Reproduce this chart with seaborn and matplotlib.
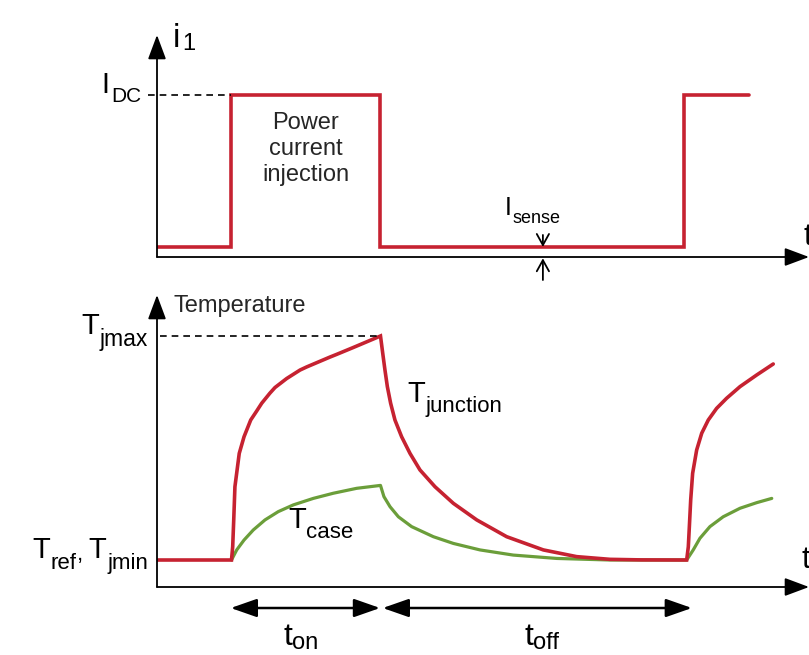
import matplotlib
matplotlib.use("Agg")
import matplotlib.pyplot as plt
import seaborn as sns
import pandas as pd
from matplotlib.patches import ConnectionPatch

sns.set_theme(style="white")
plt.rcParams["font.family"] = ["Liberation Sans", "DejaVu Sans"]

# ---------------- data (time in arbitrary units) ----------------
T_ON_START, T_ON_END, T_NEXT_ON, T_END = 5.0, 15.0, 35.4, 39.7
I_DC, I_SENSE = 1.0, 0.062
T_REF, T_JMAX = 25.0, 125.0

# current waveform (steps-post)
I_T = [0.0, T_ON_START, T_ON_END, T_NEXT_ON, T_END]
I_V = [I_SENSE, I_DC, I_SENSE, I_DC, I_DC]

# junction temperature
TJ_RISE_T = [5.0, 5.08, 5.15, 5.23, 5.52, 5.84, 6.02, 6.29, 6.69, 7.03, 7.58, 7.92, 8.70,
             9.60, 10.05, 11.61, 12.06, 13.15, 15.0]
TJ_RISE_V = [25, 30.9, 42.9, 57.7, 72.6, 80.0, 83.0, 87.5, 91.5, 95.0, 99.5, 102.0, 106.0,
             109.8, 111.2, 115.6, 116.8, 119.8, 125]
TJ_FALL_T = [15.0, 15.15, 15.30, 15.46, 15.68, 15.97, 16.42, 16.98, 17.65, 18.66, 19.89,
             21.46, 23.47, 25.93, 28.17, 30.4, 32.5, 35.55]
TJ_FALL_V = [125, 117.3, 109.8, 102.4, 95.0, 87.5, 80.0, 72.6, 65.2, 57.7, 50.3,
             42.9, 35.4, 29.5, 26.5, 25.3, 25.05, 25.0]
TJ_RISE2_T = [35.55, 35.66, 35.73, 35.82, 35.95, 36.22, 36.56, 37.0, 37.56, 38.23, 39.13,
              40.25, 41.36]
TJ_RISE2_V = [25, 30.9, 39.9, 51.8, 63.7, 74.1, 81.6, 87.5, 92.7, 97.2, 102.4, 107.6, 112.5]

# case temperature
TC_RISE_T = [5.0, 5.35, 5.84, 6.46, 7.25, 8.14, 9.15, 10.49, 11.83, 13.40, 15.0]
TC_RISE_V = [25, 29.5, 33.9, 38.4, 42.9, 46.6, 49.6, 52.5, 54.8, 57.0, 58.3]
TC_FALL_T = [15.0, 15.23, 15.64, 16.2, 17.09, 18.55, 19.89, 21.68, 23.91, 26.83, 30.4, 35.55]
TC_FALL_V = [58.3, 53.3, 48.8, 44.3, 39.9, 35.4, 32.4, 29.5, 27.2, 25.7, 25.0, 25.0]
TC_RISE2_T = [35.55, 35.99, 36.44, 37.11, 38.0, 39.13, 40.25, 41.26]
TC_RISE2_V = [25, 29.5, 34.7, 39.9, 44.3, 48.1, 50.6, 52.5]

RED = "#c62231"
GREEN = "#6b9e3a"

# ---------------- figure ----------------
W, H = 809, 655
fig = plt.figure(figsize=(W / 100, H / 100), dpi=100)
fig.patch.set_facecolor("white")


def px_axes(left, top, right, bottom):
    return fig.add_axes([left / W, 1 - bottom / H, (right - left) / W, (bottom - top) / H])


ax_i = px_axes(157, 35, 809, 257)
ax_T = px_axes(157, 295, 809, 587)
XMAX = 43.76
for ax in (ax_i, ax_T):
    ax.set_xlim(0, XMAX)
    ax.set_xticks([])
    ax.set_yticks([])
    for s in ax.spines.values():
        s.set_visible(False)
    ax.set_facecolor("none")
ax_i.set_ylim(0, 1.37)
ax_T.set_ylim(12.95, 143.3)

# ---------------- curves ----------------
df_i = pd.DataFrame({"t": I_T, "i": I_V})
sns.lineplot(data=df_i, x="t", y="i", ax=ax_i, color=RED, lw=2.6, drawstyle="steps-post",
             estimator=None, sort=False, solid_joinstyle="miter")

case_t = TC_RISE_T + TC_FALL_T[1:] + TC_RISE2_T[1:]
case_v = TC_RISE_V + TC_FALL_V[1:] + TC_RISE2_V[1:]
junc_t = [0.0] + TJ_RISE_T + TJ_FALL_T[1:] + TJ_RISE2_T[1:]
junc_v = [T_REF] + TJ_RISE_V + TJ_FALL_V[1:] + TJ_RISE2_V[1:]
sns.lineplot(x=case_t, y=case_v, ax=ax_T, color=GREEN, lw=2.3, estimator=None, sort=False,
             solid_joinstyle="round")
sns.lineplot(x=junc_t, y=junc_v, ax=ax_T, color=RED, lw=2.6, estimator=None, sort=False,
             solid_joinstyle="miter")
for ax in (ax_i, ax_T):
    ax.set_xlabel("")
    ax.set_ylabel("")

# ---------------- axes arrows ----------------
axkw = dict(arrowstyle="-|>,head_length=0.75,head_width=0.28", color="black", lw=1.3,
            mutation_scale=20, shrinkA=0, shrinkB=0)
for ax in (ax_i, ax_T):
    ax.annotate("", xy=(0, 1), xytext=(0, 0), xycoords="axes fraction", arrowprops=axkw)
    ax.annotate("", xy=(1, 0), xytext=(0, 0), xycoords="axes fraction", arrowprops=axkw)

# ---------------- dashed guides ----------------
dkw = dict(color="black", lw=1.2, dashes=(4, 3), clip_on=False)
ax_i.plot([-0.6, T_ON_START], [I_DC, I_DC], **dkw)
ax_T.plot([0.2, T_ON_END], [T_JMAX, T_JMAX], **dkw)
for tx in (T_ON_START, T_ON_END):
    con = ConnectionPatch(xyA=(tx, 0), coordsA="data", axesA=ax_i,
                          xyB=(tx, 5.0), coordsB="data", axesB=ax_T,
                          color="black", lw=1.2, linestyle=(0, (4, 3)))
    fig.add_artist(con)

# ---------------- I_sense arrows ----------------
skw = dict(arrowstyle="->,head_length=0.4,head_width=0.22", color="black", lw=1.3,
           mutation_scale=20, shrinkA=0, shrinkB=0)
ax_i.annotate("", xy=(25.9, I_SENSE), xytext=(25.9, 0.136), arrowprops=skw, annotation_clip=False)
ax_i.annotate("", xy=(25.9, -0.008), xytext=(25.9, -0.142), arrowprops=skw, annotation_clip=False)

# ---------------- t_on / t_off arrows ----------------
tkw = dict(arrowstyle="<|-|>,head_length=0.8,head_width=0.28", color="black", lw=1.8,
           mutation_scale=20, shrinkA=0, shrinkB=0)
Y_ARR = 3.57
ax_T.annotate("", xy=(14.97, Y_ARR), xytext=(4.95, Y_ARR), arrowprops=tkw, annotation_clip=False)
ax_T.annotate("", xy=(35.9, Y_ARR), xytext=(15.15, Y_ARR), arrowprops=tkw, annotation_clip=False)

# ---------------- text ----------------
R = fig.canvas.get_renderer()
P = 0.72  # points per pixel


def rich(ax, xy, xycoords, parts, offset=(0, 0), ha="left"):
    placed = []
    x = 0.0
    for text, size, dy, gap in parts:
        x += gap
        a = ax.annotate(text, xy=xy, xycoords=xycoords, xytext=(offset[0] + x, offset[1] + dy),
                        textcoords="offset points", fontsize=size, ha="left", va="baseline",
                        annotation_clip=False, color="black")
        w = a.get_window_extent(R).width * 72 / fig.dpi
        placed.append((a, x, dy))
        x += w
    if ha != "left":
        shift = x if ha == "right" else x / 2
        for a, x0, dy in placed:
            a.xyann = (offset[0] + x0 - shift, offset[1] + dy)


rich(ax_i, (0, 1), "axes fraction", [("i", 24, 0, 0), ("1", 17, -2, 1)], offset=(16 * P, -12 * P))
rich(ax_i, (0, I_DC), ("axes fraction", "data"), [("I", 21, 0, 0), ("DC", 15, -6.5, 1)],
     offset=(-16 * P, 2 * P), ha="right")
ax_i.text(10.0, 0.665, "Power\ncurrent\ninjection", ha="center", va="center", fontsize=17,
          linespacing=1.25)
rich(ax_i, (23.36, 0.259), "data", [("I", 18, 0, 0), ("sense", 13, -5.8, 0.5)])
rich(ax_i, (1, 0), "axes fraction", [("t", 22, 0, 0)], offset=(-5 * P, 12 * P))

ax_T.annotate("Temperature", xy=(0, 1), xycoords="axes fraction", xytext=(16 * P, -17 * P),
              textcoords="offset points", fontsize=17, ha="left", va="baseline")
rich(ax_T, (0, T_JMAX), ("axes fraction", "data"), [("T", 21, 0, 0), ("jmax", 16.5, -8.6, 0.5)],
     offset=(-9 * P, 2 * P), ha="right")
rich(ax_T, (0, T_REF), ("axes fraction", "data"),
     [("T", 21, 0, 0), ("ref", 16, -8, 0.5), (",", 16, -1.5, 0), ("T", 21, 0, 4),
      ("jmin", 16, -8, 0.5)],
     offset=(-9 * P, 2 * P), ha="right")
rich(ax_T, (16.78, 95.5), "data", [("T", 21, 0, 0), ("junction", 16, -7.2, 0.5)])
rich(ax_T, (8.79, 39.3), "data", [("T", 21, 0, 0), ("case", 16, -7.2, 0.5)])
rich(ax_T, (1, 0), "axes fraction", [("t", 22, 0, 0)], offset=(-7 * P, 19 * P))
rich(ax_T, (10.0, Y_ARR), "data", [("t", 23, 0, 0), ("on", 17, -3, 0)],
     offset=(-5 * P, -37 * P), ha="center")
rich(ax_T, (25.5, Y_ARR), "data", [("t", 23, 0, 0), ("off", 17, -3, 0)],
     offset=(5 * P, -37 * P), ha="center")

fig.savefig("out.png", dpi=100, facecolor="white")
